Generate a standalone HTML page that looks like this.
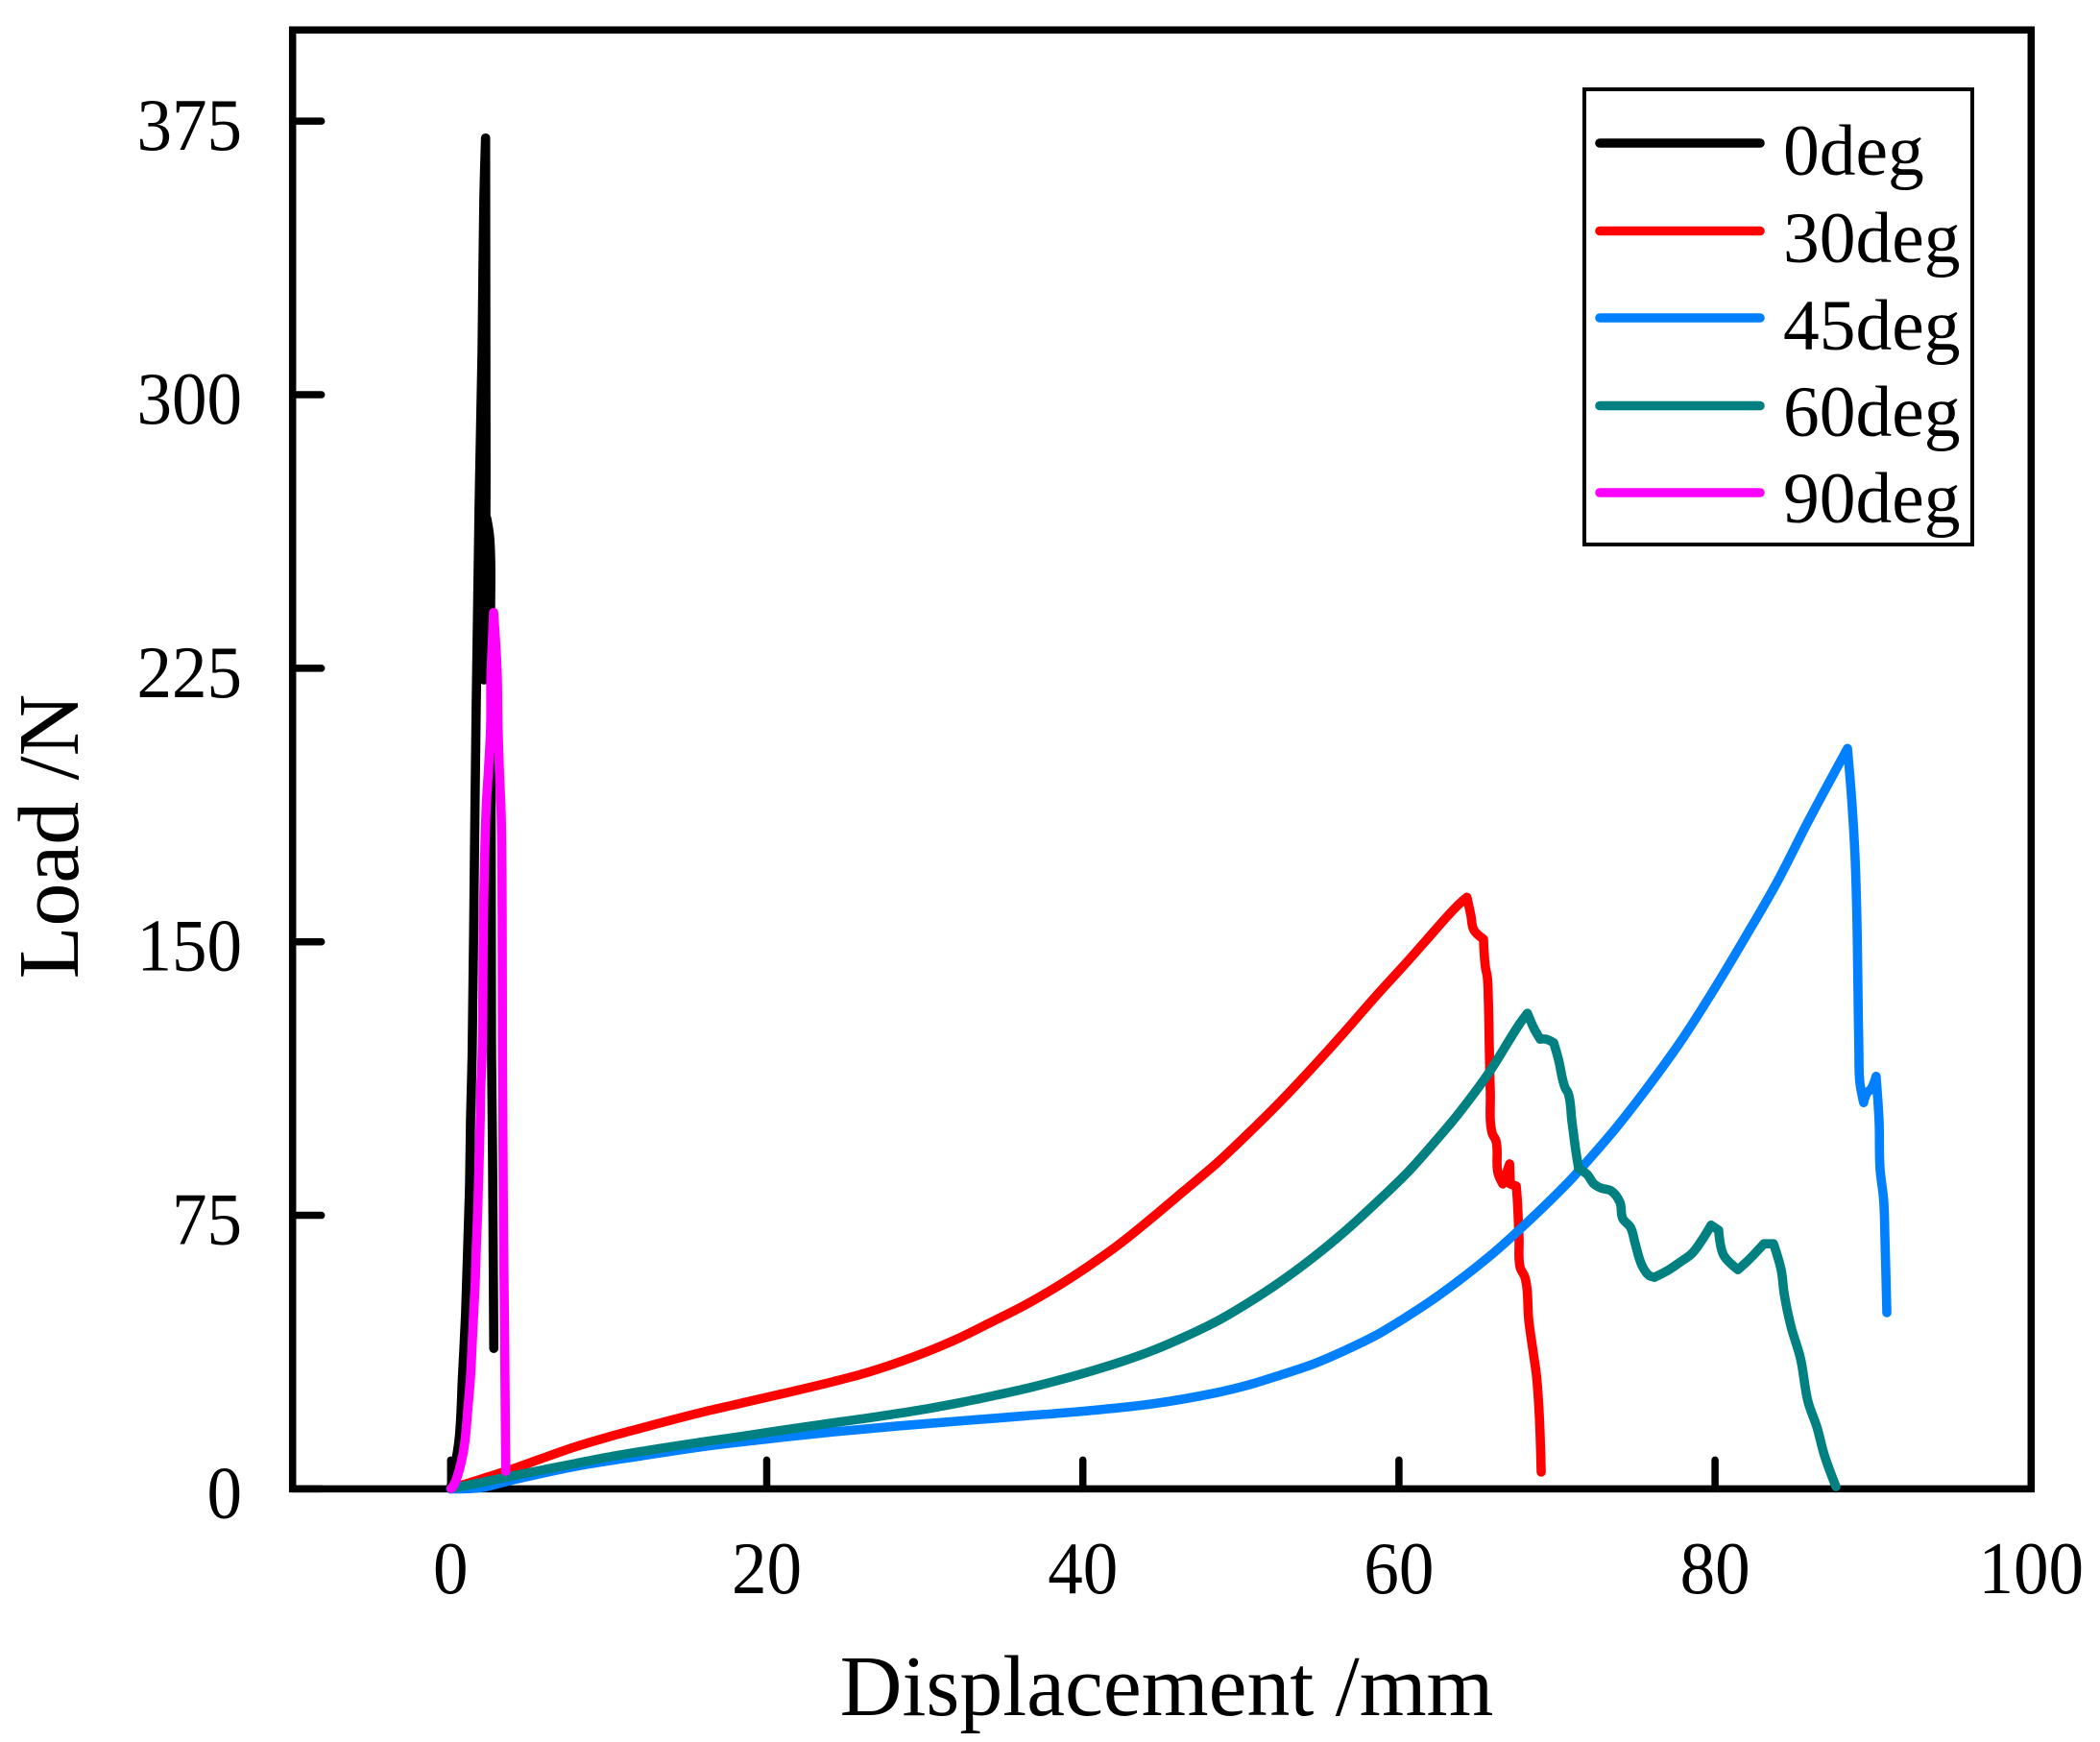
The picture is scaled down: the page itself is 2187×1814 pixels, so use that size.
<!DOCTYPE html>
<html lang="en">
<head>
<meta charset="utf-8">
<title>Load vs Displacement</title>
<style>
html,body{margin:0;padding:0;background:#fff;}
svg{display:block;}
text{font-family:"Liberation Serif","Times New Roman",serif;fill:#000;}
.tick-label{font-size:73px;}
.legend-label{font-size:75.5px;}
.axis-title{font-size:89.8px;}
.series{fill:none;stroke-width:9.6;stroke-linejoin:round;stroke-linecap:round;}
</style>
</head>
<body>
<svg id="chart" xmlns="http://www.w3.org/2000/svg" width="2187" height="1814" viewBox="0 0 2187 1814">
  <rect x="0" y="0" width="2187" height="1814" fill="#fff"/>
  <g id="axes"></g>
  <g id="marks"></g>
  <text class="axis-title" x="1215" y="1786" text-anchor="middle">Displacement /mm</text>
  <text class="axis-title" x="81" y="871" text-anchor="middle" transform="rotate(-90 81 871)">Load /N</text>
  <g>
    <rect x="1650" y="93" width="404" height="474" fill="none" stroke="#000" stroke-width="4"/>
    <g>
      <line x1="1666" y1="149" x2="1833" y2="149" stroke="#000000" stroke-width="9.6" stroke-linecap="round"/>
      <text class="legend-label" x="1857" y="182">0deg</text>
    </g>
    <g>
      <line x1="1666" y1="240.5" x2="1833" y2="240.5" stroke="#ff0000" stroke-width="9.6" stroke-linecap="round"/>
      <text class="legend-label" x="1857" y="273">30deg</text>
    </g>
    <g>
      <line x1="1666" y1="331" x2="1833" y2="331" stroke="#0080ff" stroke-width="9.6" stroke-linecap="round"/>
      <text class="legend-label" x="1857" y="364">45deg</text>
    </g>
    <g>
      <line x1="1666" y1="422.5" x2="1833" y2="422.5" stroke="#008080" stroke-width="9.6" stroke-linecap="round"/>
      <text class="legend-label" x="1857" y="454">60deg</text>
    </g>
    <g>
      <line x1="1666" y1="513" x2="1833" y2="513" stroke="#ff00ff" stroke-width="9.6" stroke-linecap="round"/>
      <text class="legend-label" x="1857" y="544">90deg</text>
    </g>
  </g>
</svg>
<script>
var xTicks = [0, 20, 40, 60, 80, 100];
var yTicks = [0, 75, 150, 225, 300, 375];

var x0deg = [0,0.04,0.53,0.75,0.95,1.08,1.2,1.26,1.36,1.5,1.62,1.8,1.99,2.11,2.21,2.23,2.23,2.11,2.29,2.47,2.53,2.59,2.65,2.73];
var y0deg = [0,0.9,13.3,30.9,48.3,65.9,83.6,101,118.6,171,215.5,269,312,355,370.4,303,266,221.8,266,260.8,239.7,118.6,92.2,38.5];

var x30deg = [0.01,1.87,3.87,5.94,7.94,9.95,12,14,16,18.1,20.1,22.1,24.2,26.2,28.2,30.2,32.2,34.2,36.3,38.3,40.3,42.4,44.4,46.4,48.5,50.5,52.5,54.5,56.5,58.5,60.6,61.6,63.7,64.3,64.55,64.73,65.35,65.47,65.59,65.66,65.72,65.78,65.9,66.14,66.27,66.57,67,67.05,67.42,67.48,67.6,67.67,67.97,68.22,68.51,68.69,68.87,69];
var y30deg = [0.1,2.6,5.4,8.6,11.6,14.2,16.6,18.9,21.1,23.2,25.2,27.2,29.4,31.7,34.5,37.7,41.4,45.7,50.3,55.3,60.9,67.4,74.4,81.7,89.4,97.6,106.2,115.4,125,134.9,144.9,149.8,159.9,162.2,157.3,153.3,150.7,143.1,140.4,133.6,120.4,108.8,97.5,95.4,86.5,83.6,89.1,83.6,83,79.9,68.6,60.7,58,46,37,31.5,21,4.6];

var x45deg = [0,1.87,3.87,7.94,12,16,20.1,24.2,28.2,32.2,36.3,40.3,44.4,48.5,50.5,52.5,54.5,56.5,58.5,60.6,62.6,65.66,67.66,70.7,71.73,73.74,75.8,77.8,79.8,81.88,83.88,85.89,88.38,88.62,88.86,88.98,89.04,89.1,89.16,89.4,89.65,89.83,90.19,90.38,90.44,90.67,90.75,90.87];
var y45deg = [0,0.3,2.4,6.2,9,11.6,13.7,15.6,17.2,18.6,20,21.4,23.3,26.4,28.5,31.2,34.1,37.8,42,47.5,53.3,63.5,71.2,84,88.9,99,110.5,122.5,136,151,166,183,203,190.5,173.1,155.4,137.8,120.4,111.5,105.9,108.8,109.4,113.1,100.7,87.8,79.1,68.6,48.3];

var x60deg = [0.01,1.87,3.87,5.94,7.94,9.95,12,14,16,18.1,20.1,22.1,24.2,26.2,28.2,30.2,32.2,34.2,36.3,38.3,40.3,42.4,44.4,46.4,48.5,50.5,52.5,54.5,56.5,58.5,60.6,62.6,63.7,65.66,67.7,68.13,68.57,68.94,69.3,69.79,70.09,70.52,70.7,70.94,71.18,71.37,71.91,72.34,72.77,73.43,73.98,74.16,74.65,74.95,75.37,75.8,76.16,77.02,77.8,78.53,79.14,79.75,80.23,80.54,81.45,82.18,83.09,83.7,84.19,84.37,84.8,85.4,85.89,86.44,86.92,87.65];
var y60deg = [0.1,1.7,3.5,5.3,7,8.7,10.2,11.6,12.9,14.2,15.5,16.8,18.1,19.3,20.6,22,23.6,25.4,27.4,29.6,32,34.8,37.9,41.6,46,51.1,56.8,63.2,70.3,78.2,87,96.8,102.5,113.9,127.9,130.4,126,123.3,123.3,122.3,117.8,109.9,108.6,100.9,93,87.8,86.2,83.6,82.5,81.7,78.6,74.1,71.7,67.2,61.3,58.6,58,59.9,62.2,64.5,68,72.3,70.9,64.1,60.1,63,67.2,67.2,59.9,53.6,44.6,35.9,23.8,17,9.2,0.6];

var x90deg = [0.04,0.22,0.75,0.91,1.09,1.26,1.36,1.46,1.56,1.62,1.7,1.76,1.82,1.87,1.91,1.99,2.08,2.26,2.4,2.53,2.55,2.61,2.72,2.88,2.95,3.0,3.08,3.2,3.26,3.28,3.34,3.4,3.49];
var y90deg = [0.1,1.2,8.9,13.3,22,30.9,39.6,48.3,57.2,65.9,74.6,83.6,92.2,101,110,118.6,158,187.8,197.6,208.9,222.8,229.6,240.3,229.6,222.8,208.9,197.6,184.4,158.1,118.6,73,48.3,4.8];

var SVGNS = 'http://www.w3.org/2000/svg';

function xScale(v) { return 469.3 + 16.46 * v; }
function yScale(v) { return 1550.4 - 3.798 * v; }

var axes = document.getElementById('axes');
var marks = document.getElementById('marks');

var frame = document.createElementNS(SVGNS, 'rect');


frame.setAttribute('x', xScale(-10));
frame.setAttribute('y', yScale(400));
frame.setAttribute('width', xScale(100) - xScale(-10));
frame.setAttribute('height', yScale(0) - yScale(400));
frame.setAttribute('fill', 'none');
frame.setAttribute('stroke', '#000');
frame.setAttribute('stroke-width', '7.5');
axes.appendChild(frame);

xTicks.forEach(function (t) {
  var mark = document.createElementNS(SVGNS, 'line');
  
  
  mark.setAttribute('x1', xScale(t));
  mark.setAttribute('x2', xScale(t));
  mark.setAttribute('y1', yScale(0));
  mark.setAttribute('y2', yScale(0) - 30);
  mark.setAttribute('stroke', '#000');
  mark.setAttribute('stroke-width', '7.5');
  mark.setAttribute('stroke-linecap', 'round');
  axes.appendChild(mark);
  var label = document.createElementNS(SVGNS, 'text');
  
  
  label.setAttribute('class', 'tick-label');
  label.setAttribute('transform', 'translate(' + xScale(t) + ' 1659) scale(1 1.06)');
  label.setAttribute('text-anchor', 'middle');
  label.textContent = String(t);
  axes.appendChild(label);
});

yTicks.forEach(function (t) {
  var mark = document.createElementNS(SVGNS, 'line');
  
  
  mark.setAttribute('x1', xScale(-10));
  mark.setAttribute('x2', xScale(-10) + 30);
  mark.setAttribute('y1', yScale(t));
  mark.setAttribute('y2', yScale(t));
  mark.setAttribute('stroke', '#000');
  mark.setAttribute('stroke-width', '7.5');
  mark.setAttribute('stroke-linecap', 'round');
  axes.appendChild(mark);
  var label = document.createElementNS(SVGNS, 'text');
  
  
  label.setAttribute('class', 'tick-label');
  label.setAttribute('transform', 'translate(252 ' + (yScale(t) + 30) + ') scale(1 1.06)');
  label.setAttribute('text-anchor', 'end');
  label.textContent = String(t);
  axes.appendChild(label);
});

function unitVec(a, b) {
  var dx = b[0] - a[0], dy = b[1] - a[1], len = Math.hypot(dx, dy) || 1;
  return [dx / len, dy / len, len];
}

function tangentAt(pts, i) {
  if (i === 0 || i === pts.length - 1) return [0, 0];
  var a = unitVec(pts[i - 1], pts[i]), b = unitVec(pts[i], pts[i + 1]);
  if (a[0] * b[0] + a[1] * b[1] < 0.75) return [0, 0];
  var t = unitVec([0, 0], [a[0] + b[0], a[1] + b[1]]);
  return [t[0], t[1]];
}

function curvePath(pts) {
  var d = 'M' + pts[0][0].toFixed(2) + ' ' + pts[0][1].toFixed(2);
  for (var i = 0; i < pts.length - 1; i++) {
    var seg = unitVec(pts[i], pts[i + 1])[2] / 3;
    var t1 = tangentAt(pts, i), t2 = tangentAt(pts, i + 1);
    d += ' C' + (pts[i][0] + t1[0] * seg).toFixed(2) + ' ' + (pts[i][1] + t1[1] * seg).toFixed(2) +
         ' ' + (pts[i + 1][0] - t2[0] * seg).toFixed(2) + ' ' + (pts[i + 1][1] - t2[1] * seg).toFixed(2) +
         ' ' + pts[i + 1][0].toFixed(2) + ' ' + pts[i + 1][1].toFixed(2);
  }
  return d;
}

function drawSeries(name, xs, ys, color) {
  var pts = xs.map(function (v, i) { return [xScale(v), yScale(ys[i])]; });
  var path = document.createElementNS(SVGNS, 'path');
  
  
  path.setAttribute('class', 'series');
  path.setAttribute('d', curvePath(pts));
  path.setAttribute('stroke', color);
  marks.appendChild(path);
}

drawSeries('series-0deg', x0deg, y0deg, '#000000');
drawSeries('series-30deg', x30deg, y30deg, '#ff0000');
drawSeries('series-45deg', x45deg, y45deg, '#0080ff');
drawSeries('series-60deg', x60deg, y60deg, '#008080');
drawSeries('series-90deg', x90deg, y90deg, '#ff00ff');
</script>
</body>
</html>
